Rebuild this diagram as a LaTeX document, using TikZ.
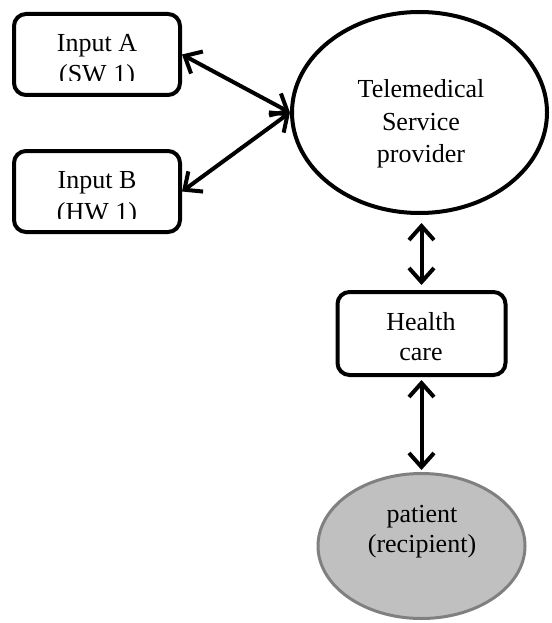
\documentclass[tikz,border=0pt]{standalone}
\usepackage{fontspec}
\setmainfont{Liberation Serif}
\usetikzlibrary{arrows.meta,shapes.geometric}
\definecolor{pfill}{HTML}{C0C0C0}
\definecolor{pdraw}{HTML}{808080}
\begin{document}
\begin{tikzpicture}[x=1pt,y=-1pt,
  box/.style={draw,line width=4pt,rounded corners=12pt,minimum width=166pt,minimum height=81pt,inner sep=0pt},
  oval/.style={draw,ellipse,line width=4pt,inner sep=0pt},
  lbl/.style={anchor=base,inner sep=0pt,font=\fontsize{26}{31}\selectfont},
  arr/.style={line width=4pt,{Straight Barb[length=14pt,width=25pt]}-{Straight Barb[length=14pt,width=25pt]}}
]
\useasboundingbox (0,0) rectangle (551,623);
% nodes
\node[box] (inA) at (97,54.5) {};
\node[box] (inB) at (97,191.5) {};
\node[oval,minimum width=255pt,minimum height=201pt] (tele) at (419.5,112.5) {};
\node[box,minimum width=168pt,minimum height=83pt] (hc) at (421.5,333.5) {};
\node[oval,draw=pdraw,fill=pfill,line width=3pt,minimum width=207pt,minimum height=145pt] (pat) at (421.5,546) {};
% texts
\node[lbl] (inA1) at (97,52) {Input A};
\begin{scope}
  \clip (14,14) rectangle (180,81);
  \node[lbl] (inA2) at (97,83) {(SW 1)};
\end{scope}
\node[lbl] (inB1) at (97,188) {Input B};
\begin{scope}
  \clip (14,150) rectangle (180,218);
  \node[lbl] (inB2) at (97,220) {(HW 1)};
\end{scope}
\node[lbl] (t1) at (421,98) {Telemedical};
\node[lbl] (t2) at (421,130) {Service};
\node[lbl] (t3) at (421,162) {provider};
\node[lbl] (h1) at (421,330) {Health};
\node[lbl] (h2) at (421,360) {care};
\node[lbl] (p1) at (422,522) {patient};
\node[lbl] (p2) at (422,552) {(recipient)};
% connectors
\draw[arr] (inA.east) -- (tele.west);
\draw[arr] (inB.east) -- (tele.west);
\draw[arr,shorten <=8pt,shorten >=5pt] (hc.north |- tele.south) -- (hc.north);
\draw[arr,shorten <=3pt,shorten >=2pt] (hc.south) -- (pat.north);
\end{tikzpicture}
\end{document}
